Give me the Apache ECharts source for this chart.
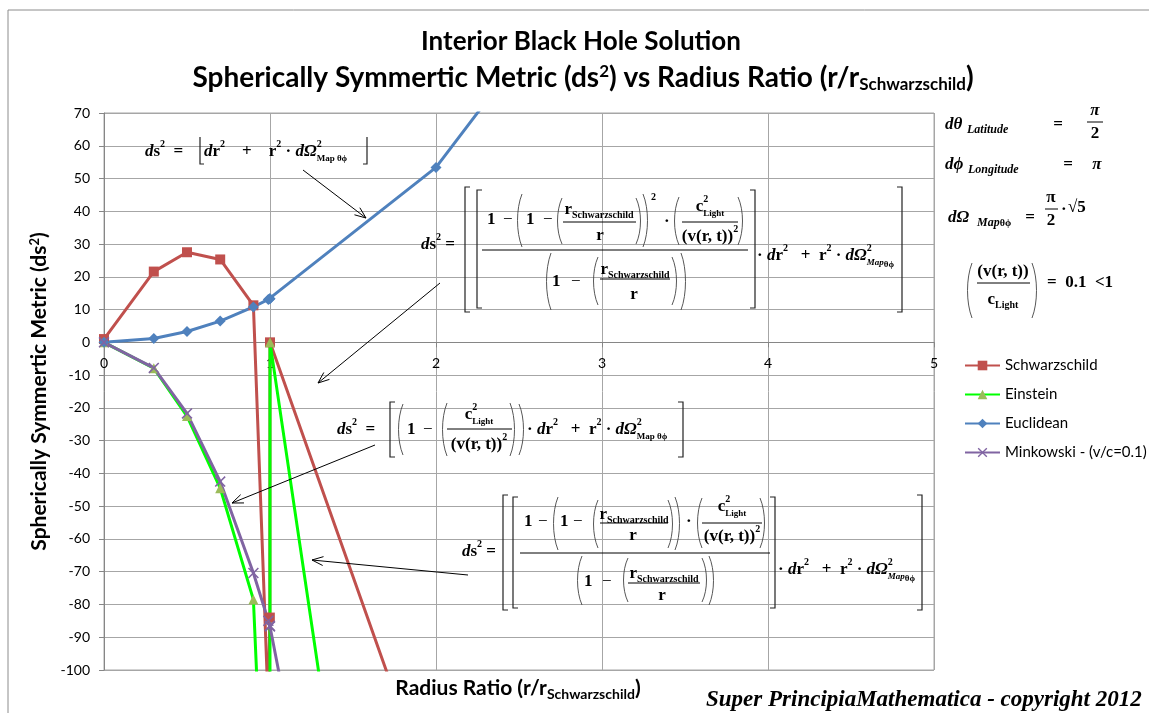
<!DOCTYPE html>
<html>
<head>
<meta charset="utf-8">
<title>Interior Black Hole Solution</title>
<script src="https://cdn.jsdelivr.net/npm/echarts@6/dist/echarts.min.js"></script>
<style>
  html, body { margin: 0; padding: 0; background: #fff; }
  #chart { width: 1149px; height: 713px; }
</style>
</head>
<body>
<div id="chart"></div>
<script>
// radius ratio r / r_Schwarzschild (shared x column)
const radiusRatio = [0, 0.3, 0.5, 0.7, 0.9, 0.99, 0.999, 1, 2, 3, 4, 5];

// ds^2 per metric (off-chart values estimated)
const schwarzschild = [1, 21.6, 27.5, 25.3, 11.3, -112, -84, 0, -143, -290, -440, -600];
const einstein = [0, -7.9, -22.5, -44.5, -78.5, -183, -1098, 0, -343, -800, -1400, -2200];
const euclidean = [0, 1.2, 3.3, 6.5, 10.8, 13.1, 13.3, 13.3, 53.4, 120, 214, 334];
const minkowski = [0, -7.8, -21.7, -42.5, -70.4, -85, -86.5, -86.7, -347, -780, -1387, -2168];

const seriesNames = ['Schwarzschild', 'Einstein', 'Euclidean', 'Minkowski - (v/c=0.1)'];

const Y_MIN = -100, Y_MAX = 70;
const GRID = { left: 104, top: 113, right: 215, bottom: 43 };

const SANS = 'Lato, "Liberation Sans", sans-serif';
const SERIF = '"Liberation Serif", "DejaVu Serif", serif';

const toPairs = (ys) => radiusRatio.map((x, i) => [x, ys[i]]);

// x marker for Minkowski
const CROSS = 'path://M0,1L1,0L5,4L9,0L10,1L6,5L10,9L9,10L5,6L1,10L0,9L4,5Z';

// ---- tiny equation layout: tokens placed left to right ----
const STY = {
  b: { size: 17, weight: 'bold', style: 'normal', dy: 0 },
  i: { size: 17, weight: 'bold', style: 'italic', dy: 0 },
  n: { size: 17, weight: 'normal', style: 'normal', dy: 0 },
  p: { size: 10, weight: 'bold', style: 'normal', dy: -8 },
  s: { size: 10, weight: 'bold', style: 'normal', dy: 5 },
  t: { size: 9, weight: 'bold', style: 'normal', dy: 7 },
  ti: { size: 9, weight: 'bold', style: 'italic', dy: 7 },
  L: { size: 12, weight: 'bold', style: 'italic', dy: 5 }
};

const measureCtx = document.createElement('canvas').getContext('2d');
const graphics = [];

function measure(text, k) {
  const s = STY[k];
  measureCtx.font = `${s.style} ${s.weight} ${s.size}px ${SERIF}`;
  return measureCtx.measureText(text).width;
}

function put(x, y, text, k) {
  const s = STY[k];
  graphics.push({
    type: 'text', x, y: y + s.dy, z: 50, silent: true,
    style: {
      text, fill: '#000', fontFamily: SERIF, fontSize: s.size,
      fontWeight: s.weight, fontStyle: s.style, align: 'left', verticalAlign: 'middle'
    }
  });
}

function tokens(src) {
  const out = [];
  src.replace(/\{(\w+)\|([^}]*)\}/g, (m, k, t) => { out.push([k, t]); return m; });
  return out;
}

function tokWidth(k, t) {
  if (k === 'ss') {
    const [a, b] = t.split(',');
    return Math.max(measure(a, 'p'), measure(b, 't'));
  }
  if (k === 'ssi') {
    const [a, b, c] = t.split(',');
    return Math.max(measure(a, 'p'), measure(b, 'ti') + measure(c, 't'));
  }
  return measure(t, k);
}

function placeTok(x, y, k, t) {
  if (k === 'ss') {
    const [a, b] = t.split(',');
    put(x, y, a, 'p');
    put(x, y, b, 't');
  } else if (k === 'ssi') {
    const [a, b, c] = t.split(',');
    put(x, y, a, 'p');
    put(x, y, b, 'ti');
    put(x + measure(b, 'ti'), y + 2, c, 't');
  } else {
    put(x, y, t, k);
  }
}

function run(x, y, src, align) {
  const toks = tokens(src);
  const ws = toks.map(([k, t]) => tokWidth(k, t));
  const total = ws.reduce((a, b) => a + b, 0);
  let cx = align === 'center' ? x - total / 2 : x;
  toks.forEach(([k, t], j) => { placeTok(cx, y, k, t); cx += ws[j]; });
  return cx;
}

function paren(x, y0, y1, right) {
  const d = right ? -1 : 1, h = y1 - y0;
  graphics.push({
    type: 'bezierCurve', z: 50, silent: true,
    shape: { x1: x + 5 * d, y1: y0, x2: x + 5 * d, y2: y1, cpx1: x - d, cpy1: y0 + h * 0.28, cpx2: x - d, cpy2: y1 - h * 0.28 },
    style: { stroke: '#444', lineWidth: 0.9, fill: null }
  });
}

function brk(x, y0, y1, right, floor) {
  const d = right ? -1 : 1;
  const pts = floor
    ? [[x, y0], [x, y1], [x + 4 * d, y1]]
    : [[x + 5 * d, y0], [x, y0], [x, y1], [x + 5 * d, y1]];
  graphics.push({
    type: 'polyline', z: 50, silent: true,
    shape: { points: pts },
    style: { stroke: '#222', lineWidth: 1.2, fill: null }
  });
}

function bar(x0, x1, y) {
  graphics.push({
    type: 'line', z: 50, silent: true,
    shape: { x1: x0, y1: y, x2: x1, y2: y },
    style: { stroke: '#000', lineWidth: 1 }
  });
}

function arrow(x0, y0, x1, y1) {
  const a = Math.atan2(y1 - y0, x1 - x0), L = 12, w = 0.38;
  graphics.push({
    type: 'line', z: 50, silent: true,
    shape: { x1: x0, y1: y0, x2: x1, y2: y1 },
    style: { stroke: '#000', lineWidth: 1 }
  });
  graphics.push({
    type: 'polyline', z: 50, silent: true,
    shape: { points: [
      [x1 - L * Math.cos(a - w), y1 - L * Math.sin(a - w)],
      [x1, y1],
      [x1 - L * Math.cos(a + w), y1 - L * Math.sin(a + w)]
    ] },
    style: { stroke: '#000', lineWidth: 1, fill: null }
  });
}

const DS = '{i|d}{b|s}{p|2}';
const TAIL_I = '{b|· }{i|d}{b|r}{p|2}{b|   +  r}{p|2}{b| · }{i|dΩ}{ssi|2,Map,θϕ}';
const TAIL_B = '{b|· }{i|d}{b|r}{p|2}{b|   +  r}{p|2}{b| · }{i|dΩ}{ss|2,Map θϕ}';
const RS = '{b|r}{s|Schwarzschild}';
const C_LIGHT = '{b|c}{ss|2,Light}';
const VRT = '{b|(v(r, t))}{p|2}';

// ---- frame + titles ----
graphics.push({
  type: 'rect', z: 1, silent: true,
  shape: { x: 8, y: 10, width: 1160, height: 720 },
  style: { stroke: '#8c8c8c', lineWidth: 1, fill: null }
});

graphics.push({
  type: 'text', x: 581, y: 42, z: 50, silent: true,
  style: { text: 'Interior Black Hole Solution', fontFamily: SANS, fontWeight: 'bold', fontSize: 26, fill: '#000', align: 'center', verticalAlign: 'middle' }
});
graphics.push({
  type: 'text', x: 583, y: 78, z: 50, silent: true,
  style: {
    text: '{t|Spherically Symmertic Metric (ds}{tp|2}{t|) vs Radius Ratio (r/r}{ts|Schwarzschild}{t|)}',
    align: 'center', verticalAlign: 'middle',
    rich: {
      t: { fontFamily: SANS, fontWeight: 'bold', fontSize: 28, lineHeight: 30, color: '#000' },
      tp: { fontFamily: SANS, fontWeight: 'bold', fontSize: 17, lineHeight: 16, verticalAlign: 'top', color: '#000' },
      ts: { fontFamily: SANS, fontWeight: 'bold', fontSize: 17, lineHeight: 12, verticalAlign: 'bottom', color: '#000' }
    }
  }
});

// x axis title sits at the bottom, not on the zero line
graphics.push({
  type: 'text', x: 518, y: 688, z: 50, silent: true,
  style: {
    text: '{t|Radius Ratio (r/r}{ts|Schwarzschild}{t|)}',
    align: 'center', verticalAlign: 'middle',
    rich: {
      t: { fontFamily: SANS, fontWeight: 'bold', fontSize: 21, lineHeight: 26, color: '#000' },
      ts: { fontFamily: SANS, fontWeight: 'bold', fontSize: 14, lineHeight: 10, verticalAlign: 'bottom', color: '#000' }
    }
  }
});

graphics.push({
  type: 'text', x: 706, y: 700, z: 50, silent: true,
  style: { text: 'Super PrincipiaMathematica - copyright 2012', fontFamily: SERIF, fontWeight: 'bold', fontStyle: 'italic', fontSize: 23, fill: '#000', align: 'left', verticalAlign: 'middle' }
});

// ---- equation 1 (Euclidean) ----
run(145, 152, DS + '{b|  =}');
brk(200, 137, 164, false, true);
run(204, 152, '{i|d}{b|r}{p|2}{b|    +    r}{p|2}{b| · }{i|dΩ}{ss|2,Map θϕ}');
brk(367, 137, 164, true, true);
arrow(303, 170, 366, 218);

// ---- equation 2 (squared Schwarzschild term) ----
run(421, 245, DS + '{b| =}');
brk(465, 187, 312);
brk(477, 190, 308);
run(487, 220, '{b|1}');
run(503, 220, '{n|−}');
paren(517, 194, 247);
run(526, 220, '{b|1}');
run(543, 220, '{n|−}');
paren(557, 198, 244);
run(599, 210, RS, 'center');
bar(563, 636, 222);
run(600, 236, '{b|r}', 'center');
paren(641, 198, 244, true);
paren(648, 194, 247, true);
run(651, 205, '{p|2}');
run(664, 222, '{b|·}');
paren(674, 197, 245);
run(710, 207, C_LIGHT, 'center');
bar(682, 738, 222);
run(710, 237, VRT, 'center');
paren(743, 197, 245, true);
bar(482, 748, 250);
paren(546, 253, 310);
run(552, 282, '{b|1}');
run(571, 282, '{n|−}');
paren(593, 257, 305);
run(635, 270, RS, 'center');
bar(600, 670, 279);
run(634, 295, '{b|r}', 'center');
paren(677, 257, 305, true);
paren(686, 253, 310, true);
brk(755, 190, 308, true);
run(757, 256, TAIL_I);
brk(902, 187, 312, true);
arrow(440, 283, 318, 383);

// ---- equation 3 (Minkowski) ----
run(337, 430, DS + '{b|  =}');
brk(390, 402, 457);
paren(398, 404, 455);
run(407, 430, '{b|1}');
run(423, 430, '{n|−}');
paren(442, 403, 456);
run(479, 415, C_LIGHT, 'center');
bar(447, 512, 429);
run(479, 445, VRT, 'center');
paren(515, 403, 456, true);
paren(524, 404, 455, true);
run(527, 430, TAIL_B);
brk(683, 402, 457, true);
arrow(375, 445, 232, 503);

// ---- equation 4 (Schwarzschild) ----
run(462, 552, DS + '{b| =}');
brk(503, 495, 610);
brk(513, 497, 608);
run(524, 522, '{b|1}');
run(538, 522, '{n|−}');
paren(553, 497, 550);
run(560, 522, '{b|1}');
run(573, 522, '{n|−}');
paren(593, 500, 548);
run(634, 515, RS, 'center');
bar(600, 668, 523);
run(633, 536, '{b|r}', 'center');
paren(673, 500, 548, true);
paren(680, 497, 550, true);
run(686, 522, '{b|·}');
paren(697, 498, 548);
run(732, 507, C_LIGHT, 'center');
bar(702, 762, 523);
run(732, 537, VRT, 'center');
paren(765, 498, 548, true);
bar(520, 770, 553);
paren(577, 556, 605);
run(584, 582, '{b|1}');
run(602, 582, '{n|−}');
paren(623, 558, 602);
run(664, 574, RS, 'center');
bar(628, 700, 583);
run(662, 596, '{b|r}', 'center');
paren(707, 558, 602, true);
paren(714, 556, 605, true);
brk(775, 497, 608, true);
run(778, 570, TAIL_I);
brk(922, 495, 610, true);
arrow(468, 575, 312, 560);

// ---- constants at right ----
run(945, 125, '{i|dθ}');
run(967, 125, '{L|Latitude}');
run(1058, 125, '{b|=}', 'center');
run(1095, 111, '{i|π}', 'center');
bar(1087, 1103, 122);
run(1095, 134, '{b|2}', 'center');

run(945, 165, '{i|dϕ}');
run(968, 165, '{L|Longitude}');
run(1068, 165, '{b|=}', 'center');
run(1097, 165, '{i|π}', 'center');

run(948, 218, '{i|dΩ}');
run(977, 218, '{L|Map}{s|θϕ}');
run(1030, 218, '{b|=}', 'center');
run(1051, 198, '{b|π}', 'center');
bar(1045, 1058, 209);
run(1051, 221, '{b|2}', 'center');
run(1061, 210, '{b|·}');
run(1068, 208, '{n|√}{b|5}');

paren(967, 263, 318);
run(1003, 272, '{b|(v(r, t))}', 'center');
bar(977, 1030, 283);
run(1003, 300, '{b|c}{s|Light}', 'center');
paren(1037, 263, 318, true);
run(1047, 283, '{b|=  0.1  <1}');

// ---- chart ----
const chart = echarts.init(document.getElementById('chart'), null, { renderer: 'canvas' });

// x axis drawn across the y = 0 line (like Excel's crossing axis)
const gridH = 713 - GRID.top - GRID.bottom;
const zeroOffset = -gridH * (0 - Y_MIN) / (Y_MAX - Y_MIN);

const axisText = { fontFamily: SANS, fontSize: 14, color: '#000' };

chart.setOption({
  animation: false,
  backgroundColor: '#fff',
  grid: Object.assign({ show: true, borderColor: '#a6a6a6', borderWidth: 1 }, GRID),
  legend: {
    orient: 'vertical',
    left: 959, top: 353,
    itemWidth: 35, itemHeight: 12, itemGap: 14,
    textStyle: { fontFamily: SANS, fontSize: 15, color: '#000' },
    data: seriesNames
  },
  xAxis: {
    type: 'value', min: 0, max: 5, interval: 1,
    position: 'bottom', offset: zeroOffset,
    axisLine: { onZero: false, lineStyle: { color: '#868686' } },
    axisTick: { show: true, length: 5, lineStyle: { color: '#868686' } },
    axisLabel: Object.assign({ margin: 14 }, axisText),
    splitLine: { show: true, lineStyle: { color: '#a6a6a6', width: 1 } }
  },
  yAxis: {
    type: 'value', min: Y_MIN, max: Y_MAX, interval: 10,
    name: 'Spherically Symmertic Metric (ds{p|2})',
    nameLocation: 'middle', nameRotate: 90, nameGap: 46,
    nameTextStyle: {
      fontFamily: SANS, fontWeight: 'bold', fontSize: 21, color: '#000',
      rich: { p: { fontFamily: SANS, fontWeight: 'bold', fontSize: 13, verticalAlign: 'top', lineHeight: 12 } }
    },
    axisLine: { show: true, onZero: false, lineStyle: { color: '#868686' } },
    axisTick: { show: true, length: 5, lineStyle: { color: '#868686' } },
    axisLabel: Object.assign({ margin: 14 }, axisText),
    splitLine: { show: true, lineStyle: { color: '#a6a6a6', width: 1 } }
  },
  graphic: graphics,
  series: [
    {
      name: seriesNames[0], type: 'line', data: toPairs(schwarzschild),
      symbol: 'rect', symbolSize: 10, clip: true,
      lineStyle: { color: '#C0504D', width: 3 },
      itemStyle: { color: '#C0504D' }
    },
    {
      name: seriesNames[1], type: 'line', data: toPairs(einstein),
      symbol: 'triangle', symbolSize: 10, clip: true,
      lineStyle: { color: '#00FF00', width: 3 },
      itemStyle: { color: '#9BBB59' }
    },
    {
      name: seriesNames[2], type: 'line', data: toPairs(euclidean),
      symbol: 'diamond', symbolSize: 11, clip: true,
      lineStyle: { color: '#4F81BD', width: 3 },
      itemStyle: { color: '#4F81BD' }
    },
    {
      name: seriesNames[3], type: 'line', data: toPairs(minkowski),
      symbol: CROSS, symbolSize: 11, clip: true,
      lineStyle: { color: '#8064A2', width: 3 },
      itemStyle: { color: '#8064A2' }
    }
  ]
});
</script>
</body>
</html>
